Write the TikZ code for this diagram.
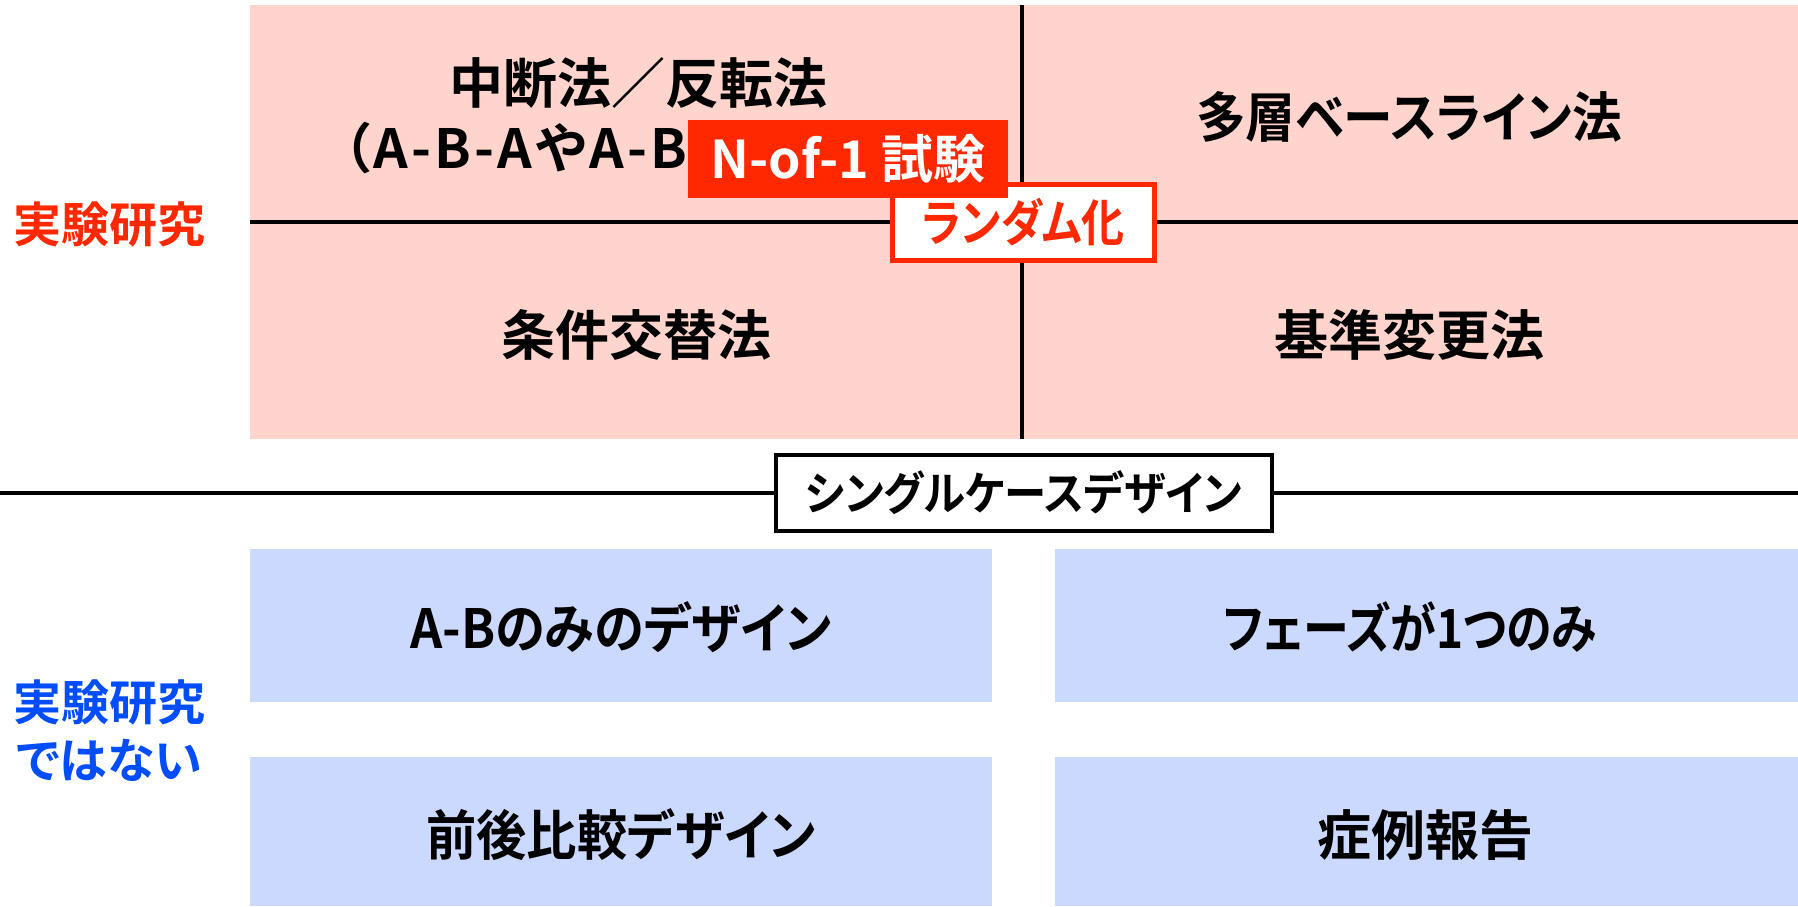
\documentclass[tikz,border=0pt]{standalone}
\usepackage{fontspec}
\setmainfont{Noto Sans CJK JP}[UprightFont=* Bold, RawFeature=+palt]
\definecolor{pinkbg}{RGB}{255,212,204}
\definecolor{bluebg}{RGB}{204,217,255}
\definecolor{redc}{RGB}{255,40,0}
\definecolor{bluec}{RGB}{0,77,255}
\begin{document}
\begin{tikzpicture}[x=0.5pt,y=-0.5pt,
  lbl/.style={font=\fontsize{27pt}{32pt}\selectfont, inner sep=0pt},
  narrow/.style={font=\fontsize{27pt}{32pt}\selectfont\addfontfeature{FakeStretch=#1}, inner sep=0pt},
  side/.style={font=\fontsize{24pt}{29pt}\selectfont, inner sep=0pt, align=center},
  rule/.style={line width=2.3pt, black}]
\useasboundingbox (0,0) rectangle (1798,906);
% experimental area
\fill[pinkbg] (250,5) rectangle (1798,439);
\coordinate (vt) at (1022,5);
\coordinate (vb) at (1022,439);
\coordinate (hl) at (250,222);
\coordinate (hr) at (1798,222);
\draw[rule] (vt) -- (vb);
\draw[rule] (hl) -- (hr);
\node[lbl] (interrupt) at (638,83) {中断法／反転法};
\node[lbl, font=\fontsize{27pt}{32pt}\selectfont\addfontfeature{LetterSpace=6}, anchor=base west] (abab) at (343,168) {（A-B-AやA-B};
\node[narrow=0.92] (multi) at (1409,117) {多層ベースライン法};
\node[lbl] (alt) at (636,335) {条件交替法};
\node[lbl] (crit) at (1409,335) {基準変更法};
\node[draw=redc, line width=2.5pt, fill=white, minimum width=131pt, minimum height=38pt,
  text=redc, font=\fontsize{25pt}{30pt}\selectfont\addfontfeature{FakeStretch=0.86}, inner sep=0pt] (rand) at (1023.5,222.5) {ランダム化};
\node[fill=redc, minimum width=160pt, minimum height=39pt, text=white,
  font=\fontsize{26pt}{31pt}\selectfont, inner sep=0pt] (nof1) at (848,159) {N-of-1 試験};
% separator
\node[draw, line width=2pt, fill=white, minimum width=248pt, minimum height=38pt,
  font=\fontsize{23pt}{28pt}\selectfont\addfontfeature{FakeStretch=0.92}, inner sep=0pt] (scd) at (1024,493) {シングルケースデザイン};
\coordinate (ll) at (0,493);
\coordinate (lr) at (1798,493);
\draw[rule] (ll) -- (scd.west);
\draw[rule] (scd.east) -- (lr);
% non-experimental
\fill[bluebg] (250,549) rectangle (992,702);
\fill[bluebg] (1055,549) rectangle (1798,702);
\fill[bluebg] (250,757) rectangle (992,906);
\fill[bluebg] (1055,757) rectangle (1798,906);
\node[narrow=0.93] (ab) at (621,627) {A-Bのみのデザイン};
\node[narrow=0.85] (phase) at (1410,627) {フェーズが1つのみ};
\node[narrow=0.93] (prepost) at (621,835) {前後比較デザイン};
\node[lbl] (case) at (1425,835) {症例報告};
% side labels
\node[side, text=redc] (exp) at (109,224) {実験研究};
\node[side, text=bluec] (nonexp) at (109,731) {実験研究\\ではない};
\end{tikzpicture}
\end{document}
